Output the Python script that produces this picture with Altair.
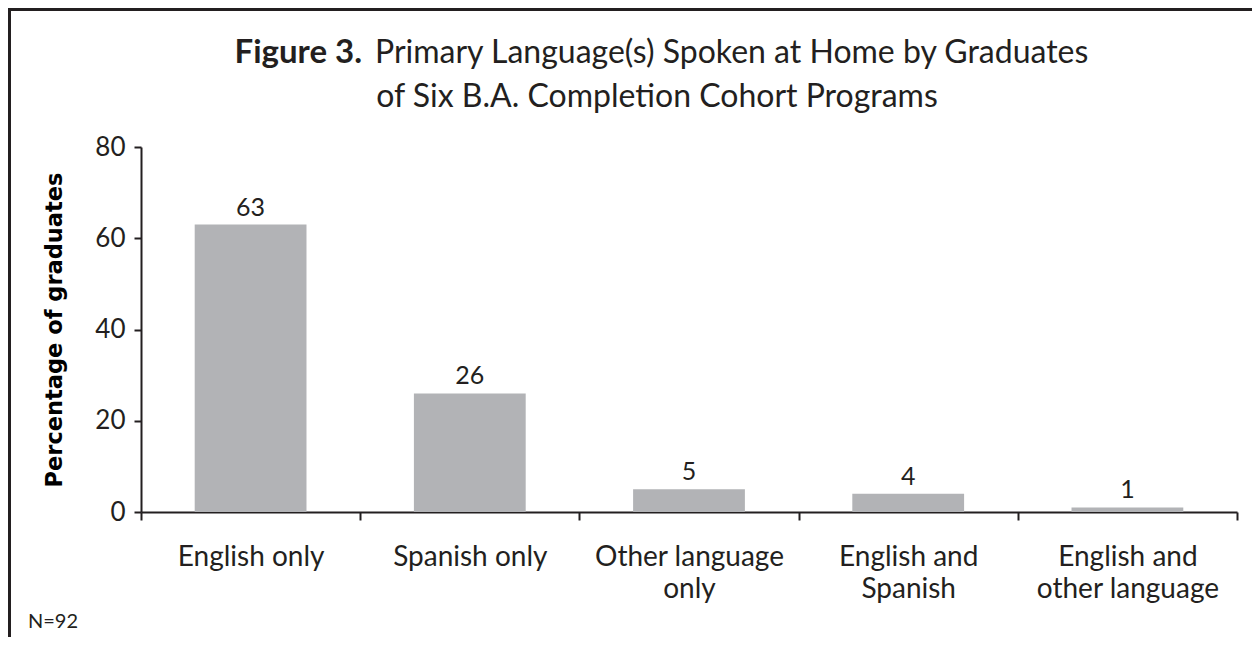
import altair as alt
import pandas as pd

categories = ["English only", "Spanish only", "Other language only",
              "English and Spanish", "English and other language"]
label_lines = [["English only"], ["Spanish only"], ["Other language", "only"],
               ["English and", "Spanish"], ["English and", "other language"]]
values = [63, 26, 5, 4, 1]
y_ticks = [0, 20, 40, 60, 80]

title_bold = "Figure 3."
title_line1 = "Primary Language(s) Spoken at Home by Graduates"
title_line2 = "of Six B.A. Completion Cohort Programs"
note = "N=92"

df = pd.DataFrame({"cat": categories, "pct": values})

FONT = "Lato"
INK = "#231f20"
W, H = 1096, 365

# label expression mapping categories to wrapped lines
parts = []
for c, lines in zip(categories, label_lines):
    arr = "[" + ",".join("'" + l + "'" for l in lines) + "]"
    parts.append(f"datum.label == '{c}' ? {arr}")
label_expr = " : ".join(parts) + " : datum.label"

x = alt.X("cat:N", sort=categories, title=None,
          scale=alt.Scale(paddingInner=0, paddingOuter=0),
          axis=alt.Axis(labelAngle=0, labelExpr=label_expr, labelFont=FONT,
                        labelFontSize=28, labelColor=INK, labelLineHeight=32,
                        labelPadding=23, labelLimit=400, tickBand="extent",
                        tickSize=8, tickColor=INK, tickWidth=2,
                        domainColor=INK, domainWidth=2, labelBaseline="top"))
y = alt.Y("pct:Q", title="Percentage of graduates",
          scale=alt.Scale(domain=[0, 80]),
          axis=alt.Axis(values=y_ticks, grid=False, labelFont=FONT,
                        labelFontSize=26, labelColor=INK, labelPadding=9,
                        tickSize=7, tickColor=INK, tickWidth=2,
                        domainColor=INK, domainWidth=2,
                        titleFont="DejaVu Sans", titleFontWeight="bold",
                        titleFontSize=22.5, titleColor="#000000",
                        titleAngle=270, titleX=-87, titleY=H / 2,
                        titleAlign="center", titleBaseline="middle"))

bars = alt.Chart(df).mark_bar(color="#b2b3b6",
                              width=alt.RelativeBandSize(0.51)).encode(x=x, y=y)
labels = alt.Chart(df).mark_text(font=FONT, fontSize=25, color=INK,
                                 baseline="alphabetic", dy=-9).encode(
    x=alt.X("cat:N", sort=categories), y="pct:Q", text="pct:Q")

t_bold = alt.Chart(pd.DataFrame({"t": [title_bold]})).mark_text(
    font=FONT, fontSize=33, fontWeight="bold", color=INK, align="right",
    baseline="alphabetic").encode(x=alt.value(221), y=alt.value(-84), text="t:N")
t1 = alt.Chart(pd.DataFrame({"t": [title_line1]})).mark_text(
    font=FONT, fontSize=32, color=INK, align="left",
    baseline="alphabetic").encode(x=alt.value(234), y=alt.value(-84), text="t:N")
t2 = alt.Chart(pd.DataFrame({"t": [title_line2]})).mark_text(
    font=FONT, fontSize=32, color=INK, align="center",
    baseline="alphabetic").encode(x=alt.value(516), y=alt.value(-40), text="t:N")
n_note = alt.Chart(pd.DataFrame({"t": [note]})).mark_text(
    font=FONT, fontSize=20, color=INK, align="left",
    baseline="alphabetic").encode(x=alt.value(-113), y=alt.value(481), text="t:N")

frame_top = alt.Chart(pd.DataFrame({"t": [0]})).mark_rule(
    color=INK, strokeWidth=3).encode(x=alt.value(-133), x2=alt.value(1111),
                                      y=alt.value(-137.5))
frame_left = alt.Chart(pd.DataFrame({"t": [0]})).mark_rule(
    color=INK, strokeWidth=3).encode(x=alt.value(-131.5), y=alt.value(-139),
                                      y2=alt.value(495))

chart = alt.layer(bars, labels, t_bold, t1, t2, n_note, frame_top, frame_left).properties(
    width=W, height=H,
    autosize=alt.AutoSizeParams(type="none"),
    padding={"left": 133, "top": 139, "right": 15, "bottom": 125},
    background="white",
).configure_view(stroke=None)

chart.save("out.html", embed_options={"renderer": "svg", "actions": False})
